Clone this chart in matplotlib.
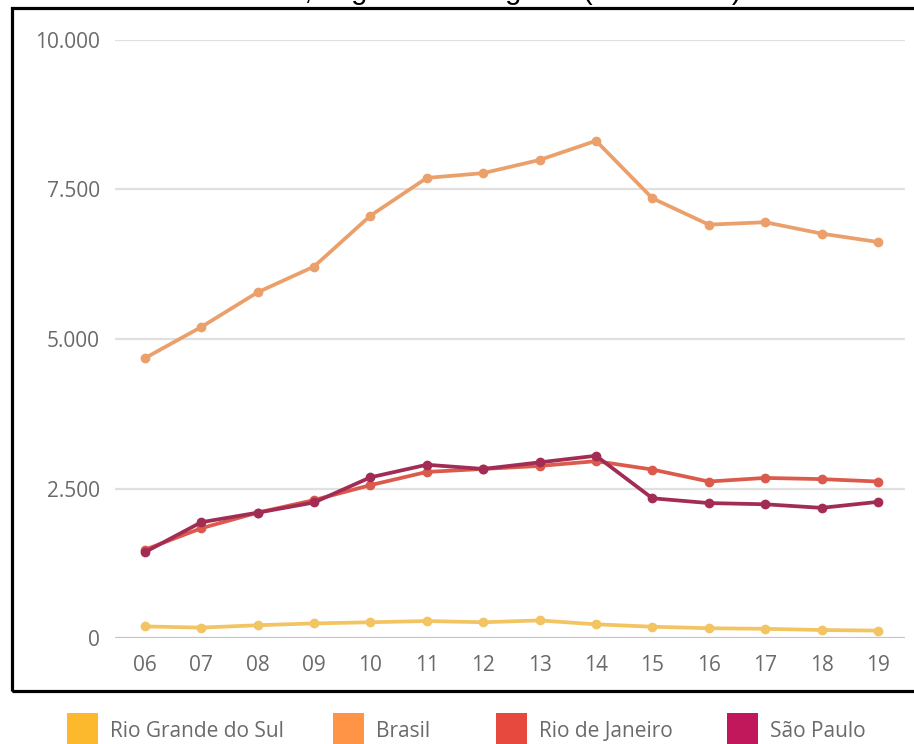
import matplotlib
matplotlib.use('Agg')
import matplotlib.pyplot as plt
import matplotlib.patches as mpatches
from matplotlib.ticker import FuncFormatter

years = ['06', '07', '08', '09', '10', '11', '12', '13', '14', '15', '16', '17', '18', '19']
rio_grande_do_sul = [200, 180, 220, 250, 270, 290, 270, 300, 235, 195, 170, 160, 140, 130]
brasil = [4680, 5200, 5780, 6210, 7060, 7690, 7770, 7990, 8310, 7350, 6910, 6950, 6760, 6620]
rio_de_janeiro = [1480, 1840, 2100, 2310, 2560, 2780, 2830, 2880, 2960, 2820, 2620, 2680, 2660, 2620]
sao_paulo = [1440, 1940, 2100, 2270, 2690, 2900, 2830, 2940, 3050, 2340, 2260, 2240, 2180, 2280]

names = ['Rio Grande do Sul', 'Brasil', 'Rio de Janeiro', 'São Paulo']
line_colors = ['#F2C462', '#EBA06B', '#DC5A4B', '#A32C55']
legend_colors = ['#FDB92E', '#FF9447', '#E8493F', '#C1185C']
title = 'Homicídios, segundo as regiões (2006-2019)'

W, H = 914, 744
fig = plt.figure(figsize=(W / 100, H / 100), dpi=100)
fig.patch.set_facecolor('white')

# plot area in pixels (left, top, right, bottom)
l, t, r, b = 115, 39.6, 905, 638.4
ax = fig.add_axes([l / W, 1 - b / H, (r - l) / W, (b - t) / H])

series = [rio_grande_do_sul, brasil, rio_de_janeiro, sao_paulo]
xs = list(range(len(years)))
for vals, col in zip(series, line_colors):
    ax.plot(xs, vals, color=col, lw=2.7, marker='o', ms=6, mec=col, mfc=col,
            solid_joinstyle='round', clip_on=False, zorder=3)

ax.set_xlim(-0.53, 13.48)
ax.set_ylim(0, 10000)
ax.set_yticks([0, 2500, 5000, 7500, 10000])
ax.yaxis.set_major_formatter(FuncFormatter(lambda v, p: f'{int(v):,}'.replace(',', '.')))
ax.set_xticks(xs)
ax.set_xticklabels(years)

for v in [2500, 5000, 7500, 10000]:
    ax.axhline(v, color='#e0e0e0', lw=1.6, zorder=1)
ax.axhline(0, color='#c4c4c4', lw=1.6, zorder=1)

for s in ax.spines.values():
    s.set_visible(False)
ax.tick_params(length=0, labelcolor='#6a6a6a', labelsize=15)
ax.tick_params(axis='y', pad=11)
ax.tick_params(axis='x', pad=12)
for lab in ax.get_xticklabels() + ax.get_yticklabels():
    lab.set_family('Open Sans')

# black frame around the chart, running off the right edge
frame = mpatches.Rectangle((12 / W, 1 - 691 / H), 1.0, (691 - 8) / H,
                           transform=fig.transFigure, fill=False,
                           ec='black', lw=2.3, clip_on=False)
fig.patches.append(frame)

# title, cut off at the top like in the source image
fig.text(742 / W, 1 + 1 / H, title, ha='right', va='baseline',
         fontsize=21, family='Liberation Sans', color='black')

# legend below the frame
sq_x = [67, 333, 496, 727]
for name, col, x0 in zip(names, legend_colors, sq_x):
    fig.patches.append(mpatches.Rectangle((x0 / W, 0), 31 / W, 31 / H,
                                          transform=fig.transFigure,
                                          fc=col, ec='none'))
    fig.text((x0 + 43) / W, 7 / H, name, ha='left', va='baseline',
             fontsize=15, family='Open Sans', color='#6a6a6a')

fig.savefig('out.png', dpi=100)
